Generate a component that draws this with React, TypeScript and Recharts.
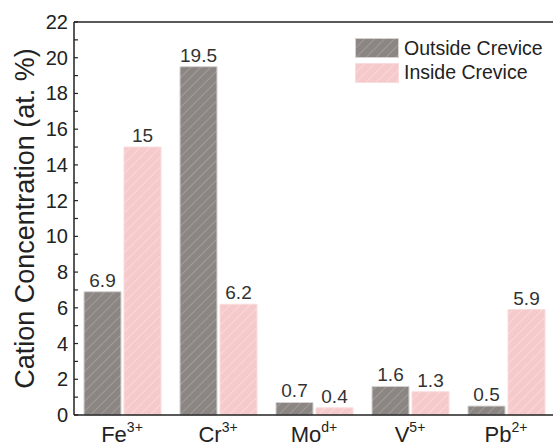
import React from 'react';
import { BarChart, Bar, XAxis, YAxis, LabelList, ReferenceLine } from 'recharts';

const ions = ['Fe', 'Cr', 'Mo', 'V', 'Pb'];
const charges = ['3+', '3+', 'd+', '5+', '2+'];
const outside = [6.9, 19.5, 0.7, 1.6, 0.5];
const inside = [15, 6.2, 0.4, 1.3, 5.9];
const yTicks = [0, 1, 2, 3, 4, 5, 6, 7, 8, 9, 10, 11, 12, 13, 14, 15, 16, 17, 18, 19, 20, 21, 22];

const data = ions.map((ion, i) => ({
  ion: ion,
  charge: charges[i],
  outside: outside[i],
  inside: inside[i],
}));

const FONT = '"Liberation Sans", Arial, sans-serif';
const OUT_FILL = '#8b8583';
const OUT_HATCH = '#aca6a4';
const IN_FILL = '#f6c9cb';
const IN_HATCH = '#fbe1e2';

function Hatch({ id, fill, line }: { id: string; fill: string; line: string }) {
  return (
    <pattern id={id} width={7} height={7} patternUnits="userSpaceOnUse" patternTransform="rotate(45)">
      <rect width={7} height={7} fill={fill} />
      <line x1={0} y1={0} x2={0} y2={7} stroke={line} strokeWidth={1.4} />
    </pattern>
  );
}

function YTick(props: any) {
  const { x, y, payload } = props;
  const v = payload.value;
  return (
    <g>
      <line x1={x + 6} x2={x + 10} y1={y} y2={y} stroke="#222" strokeWidth={1.2} />
      {v % 2 === 0 && (
        <text x={x} y={y} dy={7} textAnchor="end" fontSize={20} fill="#222" fontFamily={FONT}>
          {v}
        </text>
      )}
    </g>
  );
}

function XTick(props: any) {
  const { x, y, index } = props;
  return (
    <text x={x} y={y} dy={19} textAnchor="middle" fill="#222" fontFamily={FONT}>
      <tspan fontSize={22}>{ions[index]}</tspan>
      <tspan fontSize={14} dy={-10}>{charges[index]}</tspan>
    </text>
  );
}

function YLabel(props: any) {
  const vb = props.viewBox;
  const cy = vb.y + vb.height / 2;
  return (
    <text
      x={25}
      y={cy}
      transform={`rotate(-90, 25, ${cy})`}
      textAnchor="middle"
      dominantBaseline="central"
      fontSize={27}
      fill="#222"
      fontFamily={FONT}
    >
      Cation Concentration (at. %)
    </text>
  );
}

function LegendBox() {
  const items = [
    { name: 'Outside Crevice', fill: OUT_FILL, line: OUT_HATCH, border: '#d6d2d0', id: 'lg-out' },
    { name: 'Inside Crevice', fill: IN_FILL, line: IN_HATCH, border: '#f9dcdd', id: 'lg-in' },
  ];
  return (
    <div style={{ position: 'absolute', left: 355, top: 36, fontFamily: FONT }}>
      {items.map((it) => (
        <div key={it.id} style={{ display: 'flex', alignItems: 'center', height: 24.5 }}>
          <svg width={44} height={20} style={{ marginRight: 5 }}>
            <defs>
              <Hatch id={it.id} fill={it.fill} line={it.line} />
            </defs>
            <rect x={0.5} y={0.5} width={43} height={19} fill={`url(#${it.id})`} stroke={it.border} />
          </svg>
          <span style={{ fontSize: 19.5, color: '#222', whiteSpace: 'nowrap' }}>{it.name}</span>
        </div>
      ))}
    </div>
  );
}

export default function App() {
  return (
    <div style={{ position: 'absolute', left: 0, top: 0, width: 553, height: 446, overflow: 'hidden', background: '#fff' }}>
      <BarChart
        width={560}
        height={446}
        data={data}
        margin={{ top: 22, right: 6, bottom: 0, left: 0 }}
        barCategoryGap={10}
        barGap={3}
      >
        <defs>
          <Hatch id="hatch-out" fill={OUT_FILL} line={OUT_HATCH} />
          <Hatch id="hatch-in" fill={IN_FILL} line={IN_HATCH} />
        </defs>
        <XAxis
          dataKey="ion"
          height={31}
          axisLine={{ stroke: '#222', strokeWidth: 1.5 }}
          tickLine={false}
          tick={<XTick />}
          interval={0}
        />
        <YAxis
          width={74}
          domain={[0, 22]}
          ticks={yTicks}
          interval={0}
          tickSize={0}
          tickMargin={6}
          tickLine={false}
          axisLine={{ stroke: '#222', strokeWidth: 1.5 }}
          tick={<YTick />}
          label={<YLabel />}
        />
        <ReferenceLine y={22} stroke="#222" strokeWidth={1.5} />
        <Bar dataKey="outside" name="Outside Crevice" fill="url(#hatch-out)" stroke="#d6d2d0" strokeWidth={1} isAnimationActive={false}>
          <LabelList dataKey="outside" position="top" offset={5} fontSize={19} fill="#333" fontFamily={FONT} />
        </Bar>
        <Bar dataKey="inside" name="Inside Crevice" fill="url(#hatch-in)" stroke="#f9dcdd" strokeWidth={1} isAnimationActive={false}>
          <LabelList dataKey="inside" position="top" offset={5} fontSize={19} fill="#333" fontFamily={FONT} />
        </Bar>
      </BarChart>
      <LegendBox />
    </div>
  );
}
